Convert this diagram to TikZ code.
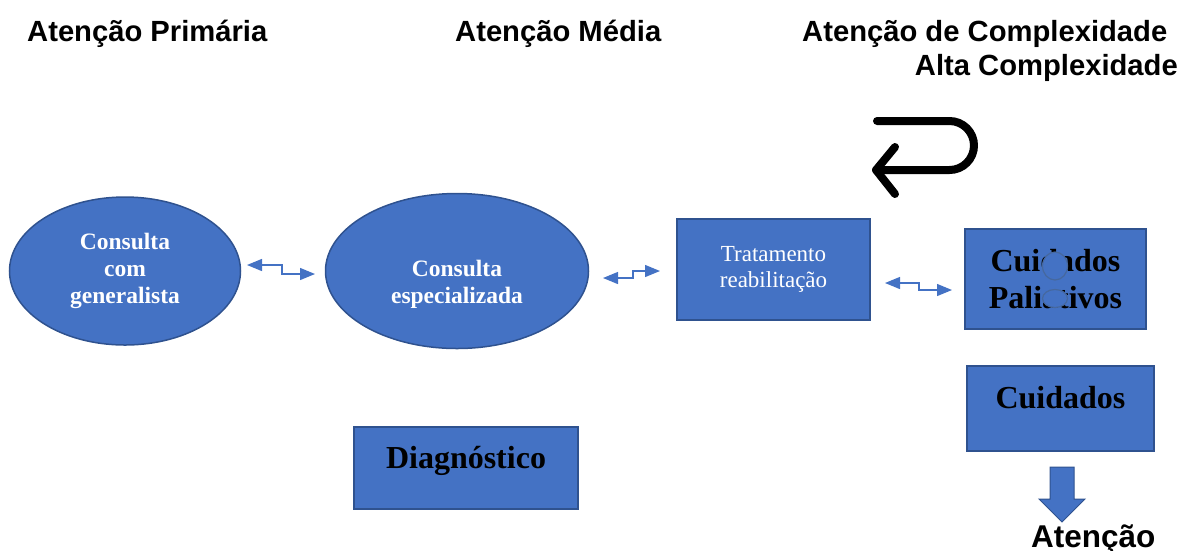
\documentclass[tikz,border=0pt]{standalone}
\usepackage{fontspec}
\setmainfont{Liberation Serif}
\newfontfamily\headfont{Liberation Sans}
\usetikzlibrary{shapes.geometric,arrows.meta}
\definecolor{officeblue}{HTML}{4472C4}
\definecolor{officeedge}{HTML}{2F528F}
\definecolor{blotedge}{HTML}{46689E}
\tikzset{
  bubble/.style={ellipse, draw=officeedge, line width=1.5pt, fill=officeblue, inner sep=0pt,
    text=white, align=center, font=\bfseries\fontsize{23.5}{27}\selectfont},
  bubbletext/.style={text=white, align=center, inner sep=0pt, font=\bfseries\fontsize{23.5}{27}\selectfont},
  block/.style={rectangle, draw=officeedge, line width=1.5pt, fill=officeblue, inner sep=0pt, align=center},
  bigtext/.style={font=\bfseries\fontsize{32}{36.5}\selectfont},
  heading/.style={font=\headfont\bfseries\fontsize{29.2}{33}\selectfont, inner sep=0pt},
  link/.style={officeblue, line width=1.3pt, {Triangle[length=15pt,width=12pt]}-{Triangle[length=15pt,width=12pt]}},
  backarrow/.style={line width=8pt, line cap=round, line join=round},
}

\begin{document}
\begin{tikzpicture}[x=1pt, y=-1pt]
    \useasboundingbox (0,0) rectangle (1182,550);
    % titles
    \node[heading, anchor=base west] (prim) at (27,41.7) {Atenção Primária};
    \node[heading, anchor=base west] (media) at (455,41.7) {Atenção Média};
    \node[heading, anchor=base west] (compl) at (802,41.7) {Atenção de Complexidade};
    \node[heading, anchor=base east] (alta) at (1178,75) {Alta Complexidade};
    % ellipses
    \node[bubble, minimum width=231pt, minimum height=148pt] (geral) at (125,271) {Consulta\\com\\generalista};
    \node[bubble, minimum width=263pt, minimum height=155pt] (espec) at (457,271) {};
    \node[bubbletext] (especlbl) at (457,284.5) {Consulta\\especializada};
    % boxes
    \node[block, minimum width=193pt, minimum height=101pt, text=white, font=\fontsize{23}{25.5}\selectfont] (trat) at (773.5,269.5) {Tratamento\\reabilitação};
    \node[block, bigtext, minimum width=181pt, minimum height=100pt] (palia) at (1055.5,279) {Cuidados\\Paliativos};
    \node[block, bigtext, minimum width=187pt, minimum height=85pt, text height=23pt, text depth=23pt] (cuid) at (1060.5,408.5) {Cuidados};
    \node[block, bigtext, minimum width=224pt, minimum height=82pt, text height=23pt, text depth=23pt] (diag) at (466,468) {Diagnóstico};
    \draw[draw=blotedge, fill=officeblue, line width=1.2pt] (1055,266) ellipse [x radius=12.5, y radius=14];
    \draw[draw=blotedge, fill=officeblue, line width=1.2pt] (1055,298.5) ellipse [x radius=12.5, y radius=9];
    % links
    \coordinate (l1a) at (247,265);
    \coordinate (l1b) at (315,274);
    \draw[link] (l1a) -- ++(35,0) |- (l1b);
    \coordinate (l2a) at (603,278);
    \coordinate (l2b) at (660,271);
    \draw[link] (l2a) -- ++(30,0) |- (l2b);
    \coordinate (l3a) at (885,283);
    \coordinate (l3b) at (952,290);
    \draw[link] (l3a) -- ++(34,0) |- (l3b);
    % return arrow
    \draw[backarrow, rounded corners=24.5pt] (877,121) -- (974,121) -- (974,170) -- (876,170);
    \draw[backarrow] (895,147) -- (876,170) -- (895,194);
    % down arrow
    \draw[draw=officeedge, fill=officeblue, line width=1pt] (1050,467) -- (1074,467) -- (1074,499) -- (1085,499)
        -- (1062,522) -- (1039,499) -- (1050,499) -- cycle;
    \node[heading, font=\headfont\bfseries\fontsize{31.5}{34}\selectfont, anchor=base west] (aten) at (1031,547) {Atenção};
\end{tikzpicture}
\end{document}
